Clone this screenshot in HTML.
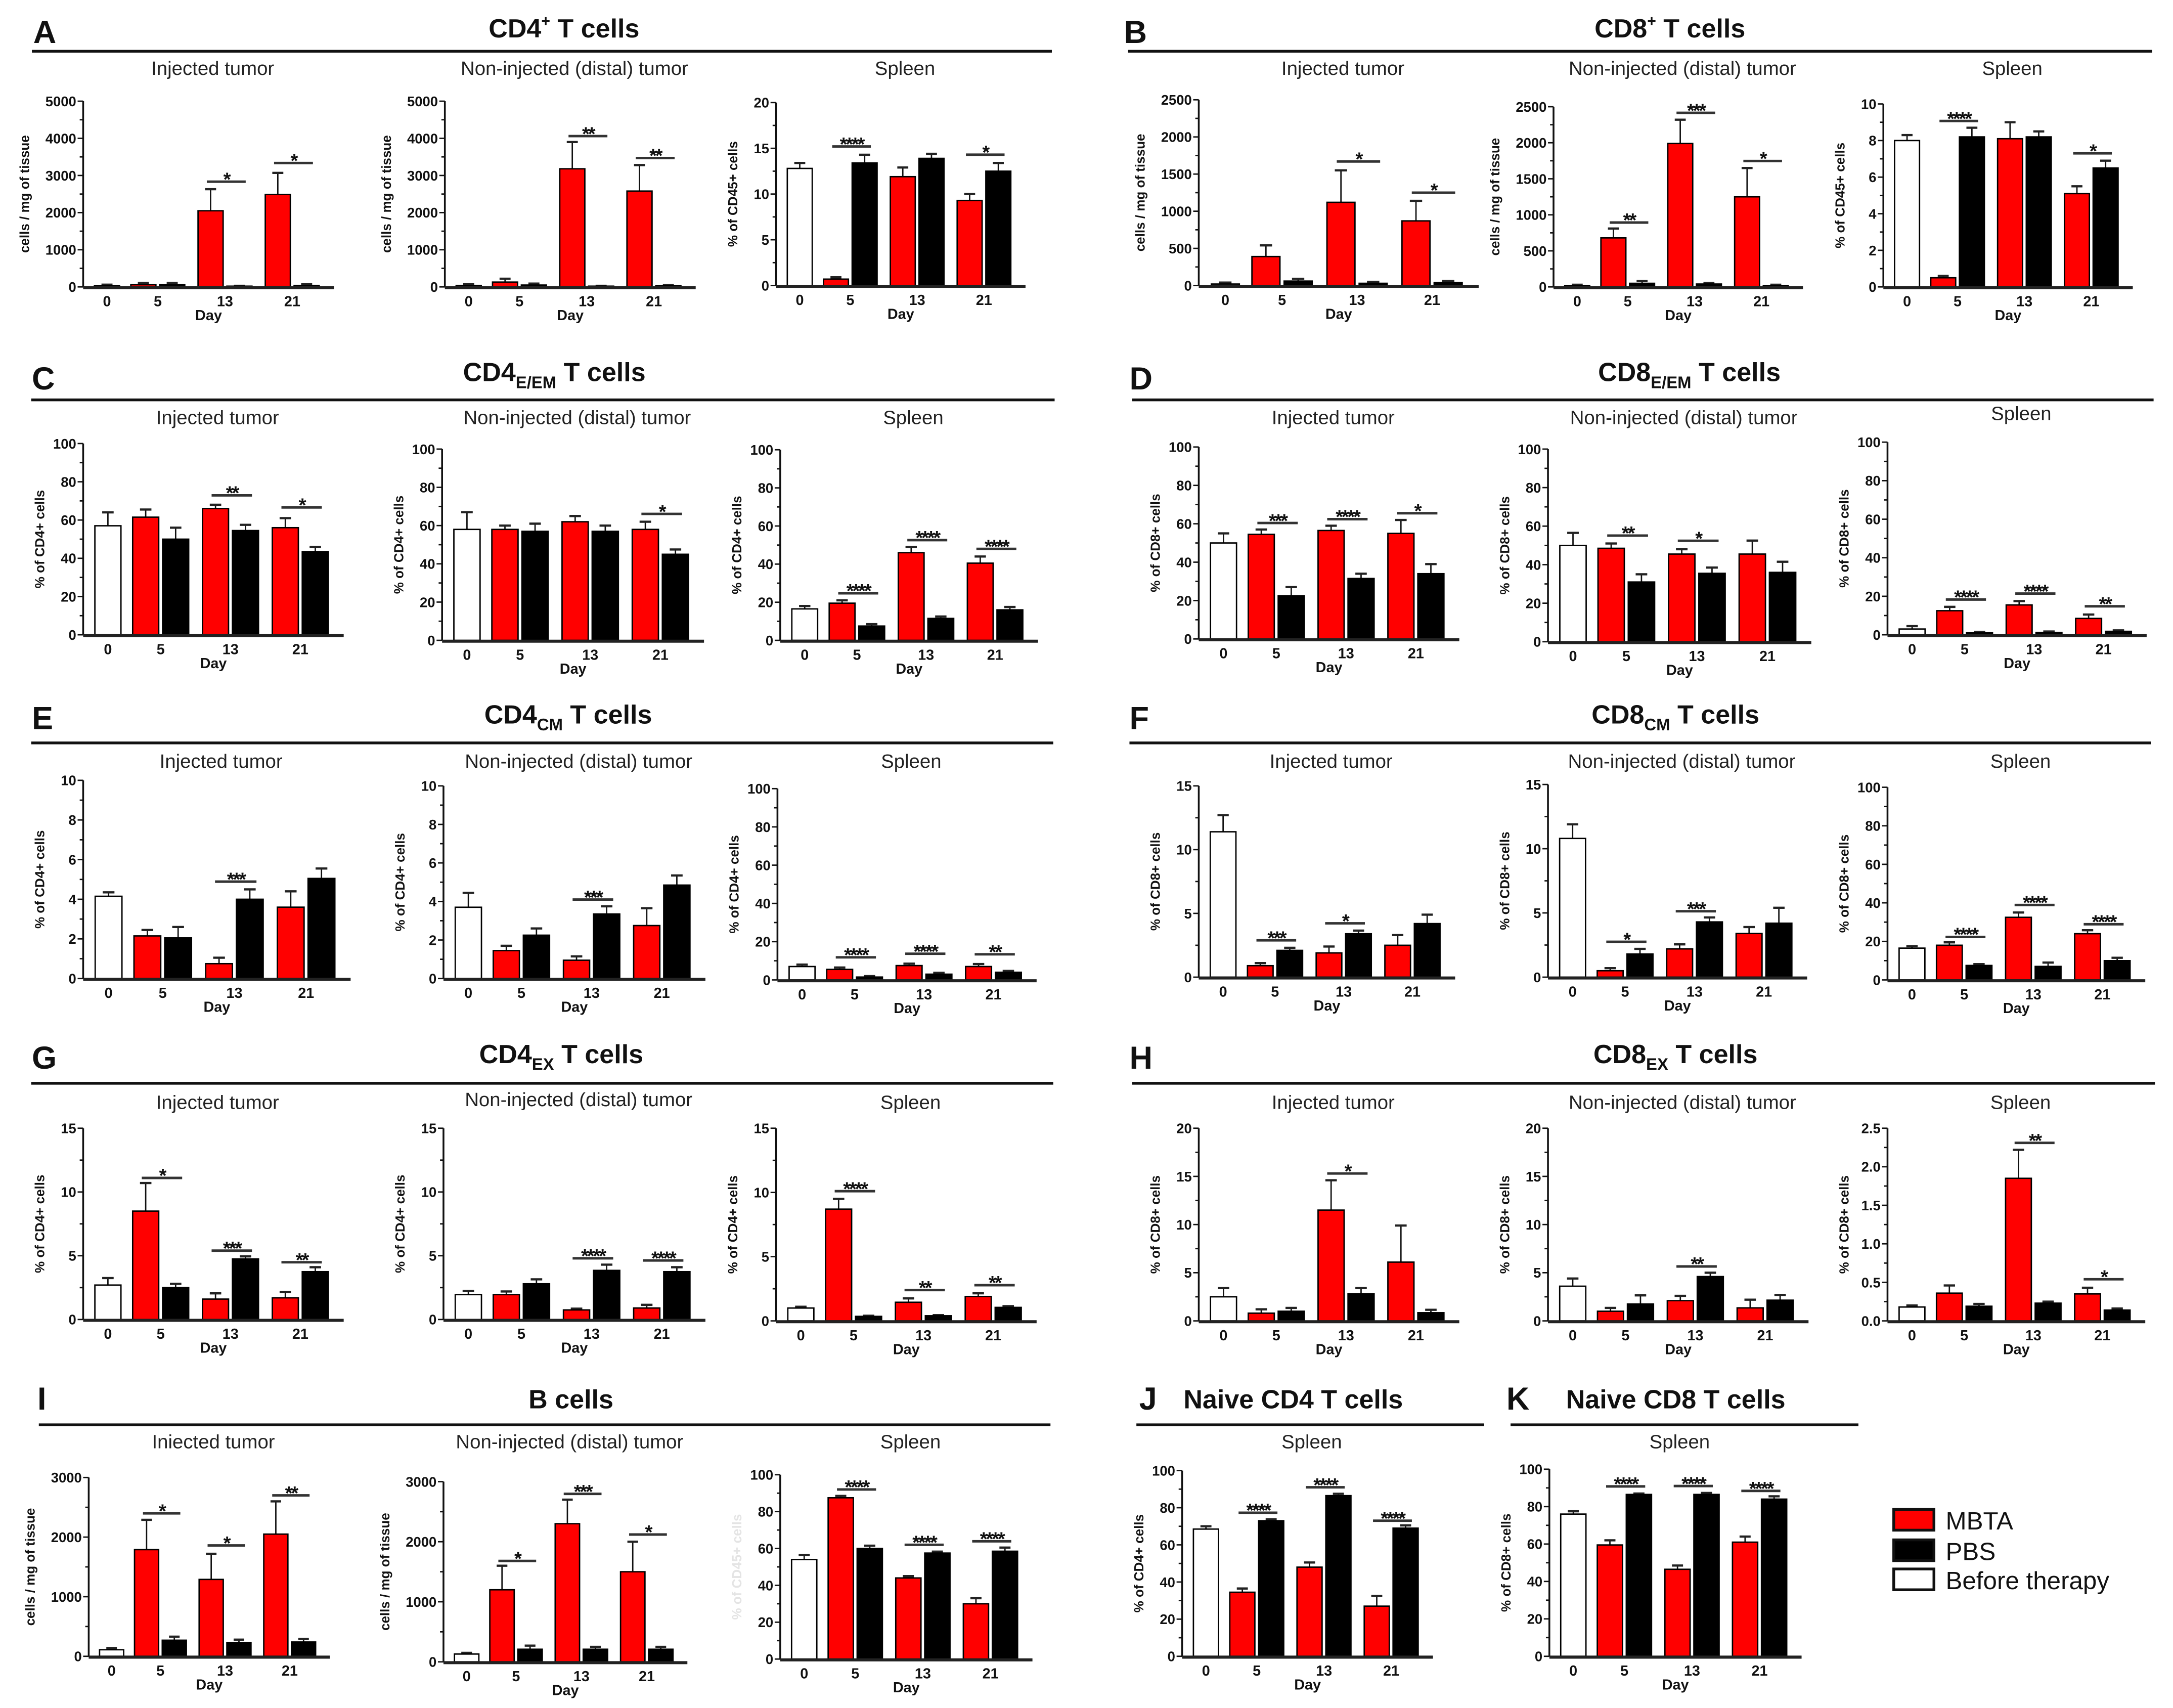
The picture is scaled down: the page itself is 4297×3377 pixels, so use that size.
<!DOCTYPE html>
<html><head><meta charset="utf-8"><title>T cell and B cell populations</title>
<style>
html,body{margin:0;padding:0;background:#fff;}
svg{display:block;}
text{font-family:"Liberation Sans",Arial,sans-serif;}
</style></head>
<body>
<svg id="fig" xmlns="http://www.w3.org/2000/svg" width="4297" height="3377" viewBox="0 0 1568 1232.3">
<rect x="0" y="0" width="1568" height="1232.3" fill="#fff"/>
</svg>
<script>
// ---- data ----
const days = ["0","5","13","21"];
// order: [before(0), MBTA5, PBS5, MBTA13, PBS13, MBTA21, PBS21]
const A1_mean=[30,60,60,2050,20,2490,40];   const A1_err=[30,50,50,580,10,580,30];   const A1_sig=[[2,"*",2833],[3,"*",3335]];
const A2_mean=[40,130,50,3180,20,2580,30];  const A2_err=[30,90,40,720,10,700,20];   const A2_sig=[[2,"**",4060],[3,"**",3470]];
const A3_mean=[12.8,0.7,13.4,11.9,13.9,9.3,12.5]; const A3_err=[0.6,0.2,0.9,1.0,0.5,0.7,0.9]; const A3_sig=[[1,"****",15.2],[3,"*",14.3]];
const B1_mean=[20,390,60,1120,30,870,40];   const B1_err=[20,150,30,430,20,270,20];  const B1_sig=[[2,"*",1670],[3,"*",1250]];
const B2_mean=[20,680,50,1990,40,1250,20];  const B2_err=[10,130,30,330,15,400,10];  const B2_sig=[[1,"**",893],[2,"***",2415],[3,"*",1747]];
const B3_mean=[8.0,0.5,8.2,8.1,8.2,5.1,6.5]; const B3_err=[0.3,0.1,0.5,0.9,0.3,0.4,0.4]; const B3_sig=[[1,"****",9.07],[3,"*",7.3]];
const C1_mean=[57,61.5,50,66,54.5,56,43.5]; const C1_err=[7,4,6,2,3,5,2.5];          const C1_sig=[[2,"**",72.9],[3,"*",66.6]];
const C2_mean=[58,58,57,62,57,58,45];       const C2_err=[9,2,4,3,3,4,2.5];          const C2_sig=[[3,"*",66.1]];
const C3_mean=[16.5,19.5,7.5,46,11.5,40.5,16]; const C3_err=[1.5,1.5,1,3,1,3.5,1.5]; const C3_sig=[[1,"****",24.7],[2,"****",52.6],[3,"****",48]];
const D1_mean=[50,54.5,22.5,56.5,31.5,55,34]; const D1_err=[5,2.5,4.5,2.5,2.5,7,5];  const D1_sig=[[1,"***",60.4],[2,"****",62.4],[3,"*",65.5]];
const D2_mean=[50,48.5,31,45.5,35.5,45.5,36]; const D2_err=[6.5,2.5,4,2.5,3,7,5.5]; const D2_sig=[[1,"**",55.1],[2,"*",52.4]];
const D3_mean=[3,12.5,1,15.5,1.2,8.5,1.8];  const D3_err=[1.5,2,0.5,2,0.5,2,0.5];    const D3_sig=[[1,"****",18.3],[2,"****",21.4],[3,"**",14.8]];
const E1_mean=[4.15,2.15,2.05,0.75,4.0,3.6,5.05]; const E1_err=[0.2,0.3,0.55,0.3,0.5,0.8,0.5]; const E1_sig=[[2,"***",4.89]];
const E2_mean=[3.7,1.45,2.25,0.95,3.35,2.75,4.85]; const E2_err=[0.75,0.25,0.35,0.2,0.4,0.9,0.5]; const E2_sig=[[2,"***",4.1]];
const E3_mean=[7,5.5,1.5,7.5,3,7,4];        const E3_err=[1,1,0.5,1,0.7,1.3,0.7];   const E3_sig=[[1,"****",11.8],[2,"****",13.7],[3,"**",13.4]];
const F1_mean=[11.4,0.9,2.1,1.9,3.4,2.5,4.2]; const F1_err=[1.3,0.2,0.2,0.5,0.25,0.8,0.7]; const F1_sig=[[1,"***",2.89],[2,"*",4.22]];
const F2_mean=[10.8,0.5,1.8,2.2,4.3,3.4,4.2]; const F2_err=[1.1,0.2,0.4,0.35,0.35,0.5,1.2]; const F2_sig=[[1,"*",2.75],[2,"***",5.13]];
const F3_mean=[16.5,18,7.5,32.5,7,24,10];   const F3_err=[1,1.5,0.7,2.5,2,1.8,1.5]; const F3_sig=[[1,"****",22.3],[2,"****",38.9],[3,"****",28.9]];
const G1_mean=[2.7,8.5,2.5,1.6,4.75,1.7,3.75]; const G1_err=[0.55,2.2,0.3,0.45,0.2,0.45,0.35]; const G1_sig=[[1,"*",11.1],[2,"***",5.4],[3,"**",4.49]];
const G2_mean=[1.95,1.95,2.8,0.75,3.85,0.9,3.75]; const G2_err=[0.3,0.25,0.35,0.1,0.45,0.25,0.35]; const G2_sig=[[2,"****",4.8],[3,"****",4.63]];
const G3_mean=[1.0,8.7,0.35,1.45,0.4,1.9,1.05]; const G3_err=[0.1,0.8,0.05,0.3,0.05,0.25,0.1]; const G3_sig=[[1,"****",10.1],[2,"**",2.4],[3,"**",2.78]];
const H1_mean=[2.5,0.8,1.0,11.5,2.8,6.1,0.85]; const H1_err=[0.9,0.4,0.35,3.1,0.6,3.8,0.3]; const H1_sig=[[2,"*",15.3]];
const H2_mean=[3.6,1.0,1.75,2.1,4.6,1.35,2.15]; const H2_err=[0.8,0.35,0.9,0.5,0.4,0.85,0.55]; const H2_sig=[[2,"**",5.65]];
const H3_mean=[0.18,0.36,0.19,1.85,0.23,0.35,0.14]; const H3_err=[0.02,0.1,0.03,0.37,0.02,0.08,0.02]; const H3_sig=[[2,"**",2.31],[3,"*",0.54]];
const I1_mean=[110,1790,270,1290,230,2050,240]; const I1_err=[30,500,60,430,50,550,50]; const I1_sig=[[1,"*",2398],[2,"*",1860],[3,"**",2700]];
const I2_mean=[130,1200,210,2300,210,1500,210]; const I2_err=[20,400,60,400,40,500,40]; const I2_sig=[[1,"*",1680],[2,"***",2797],[3,"*",2120]];
const I3_mean=[54,87.5,60,44,57.5,30,58.5]; const I3_err=[2.5,1,1.5,1,0.8,3,2];     const I3_sig=[[1,"****",92],[2,"****",62],[3,"****",63.9]];
const J_mean=[68.5,34.5,73,48,86.5,27,69];  const J_err=[1.5,2,0.8,2.5,1,5.5,1.5];  const J_sig=[[1,"****",77.3],[2,"****",91],[3,"****",73]];
const K_mean=[76,59.5,86.5,46.5,86.5,61,84]; const K_err=[1.5,2.5,0.5,2,0.8,3,1.5]; const K_sig=[[1,"****",90.8],[2,"****",91],[3,"****",88.4]];

const ticks_5000=[0,1000,2000,3000,4000,5000];
const ticks_2500=[0,500,1000,1500,2000,2500];
const ticks_3000=[0,1000,2000,3000];
const ticks_20by5=[0,5,10,15,20];
const ticks_15=[0,5,10,15];
const ticks_10=[0,2,4,6,8,10];
const ticks_100=[0,20,40,60,80,100];
const ticks_2p5=[0,0.5,1.0,1.5,2.0,2.5];

const SVGNS="http://www.w3.org/2000/svg";
const svg=document.getElementById('fig');
function mk(tag,attrs,parent,txt){
  const e=document.createElementNS(SVGNS,tag);
  for(const k in attrs) e.setAttribute(k,attrs[k]);
  if(txt!==undefined) e.textContent=txt;
  (parent||svg).appendChild(e);
  return e;
}

const CELLS="cells / mg of tissue";
const charts=[
 {id:"a-injected",x0:60,x1:241,yT:73,yB:207,ticks:ticks_5000,minor:500,yl:CELLS,m:A1_mean,e:A1_err,s:A1_sig,sub:"Injected tumor",sy:54},
 {id:"a-distal",x0:321,x1:502,yT:73,yB:207,ticks:ticks_5000,minor:500,yl:CELLS,m:A2_mean,e:A2_err,s:A2_sig,sub:"Non-injected (distal) tumor",sy:54},
 {id:"a-spleen",x0:560,x1:740,yT:74,yB:206,ticks:ticks_20by5,minor:2.5,yl:"% of CD45+ cells",m:A3_mean,e:A3_err,s:A3_sig,sub:"Spleen",sy:54},
 {id:"b-injected",x0:865,x1:1067,yT:72,yB:206,ticks:ticks_2500,minor:250,yl:CELLS,m:B1_mean,e:B1_err,s:B1_sig,sub:"Injected tumor",sy:54},
 {id:"b-distal",x0:1121,x1:1301,yT:77,yB:207,ticks:ticks_2500,minor:250,yl:CELLS,m:B2_mean,e:B2_err,s:B2_sig,sub:"Non-injected (distal) tumor",sy:54},
 {id:"b-spleen",x0:1359,x1:1539,yT:75,yB:207,ticks:ticks_10,minor:1,yl:"% of CD45+ cells",m:B3_mean,e:B3_err,s:B3_sig,sub:"Spleen",sy:54},
 {id:"c-injected",x0:60,x1:248,yT:320,yB:458,ticks:ticks_100,minor:10,yl:"% of CD4+ cells",m:C1_mean,e:C1_err,s:C1_sig,sub:"Injected tumor",sy:306},
 {id:"c-distal",x0:319,x1:508,yT:324,yB:462,ticks:ticks_100,minor:10,yl:"% of CD4+ cells",m:C2_mean,e:C2_err,s:C2_sig,sub:"Non-injected (distal) tumor",sy:306},
 {id:"c-spleen",x0:563,x1:749,yT:324.5,yB:462,ticks:ticks_100,minor:10,yl:"% of CD4+ cells",m:C3_mean,e:C3_err,s:C3_sig,sub:"Spleen",sy:306},
 {id:"d-injected",x0:865,x1:1053,yT:322.5,yB:461,ticks:ticks_100,minor:10,yl:"% of CD8+ cells",m:D1_mean,e:D1_err,s:D1_sig,sub:"Injected tumor",sy:306},
 {id:"d-distal",x0:1117,x1:1307,yT:324,yB:463,ticks:ticks_100,minor:10,yl:"% of CD8+ cells",m:D2_mean,e:D2_err,s:D2_sig,sub:"Non-injected (distal) tumor",sy:306},
 {id:"d-spleen",x0:1362,x1:1549,yT:319,yB:458,ticks:ticks_100,minor:10,yl:"% of CD8+ cells",m:D3_mean,e:D3_err,s:D3_sig,sub:"Spleen",sy:303},
 {id:"e-injected",x0:60,x1:253,yT:563,yB:706,ticks:ticks_10,minor:1,yl:"% of CD4+ cells",m:E1_mean,e:E1_err,s:E1_sig,sub:"Injected tumor",sy:554},
 {id:"e-distal",x0:320,x1:509,yT:567,yB:706,ticks:ticks_10,minor:1,yl:"% of CD4+ cells",m:E2_mean,e:E2_err,s:E2_sig,sub:"Non-injected (distal) tumor",sy:554},
 {id:"e-spleen",x0:561,x1:748,yT:569,yB:707,ticks:ticks_100,minor:10,yl:"% of CD4+ cells",m:E3_mean,e:E3_err,s:E3_sig,sub:"Spleen",sy:554},
 {id:"f-injected",x0:865,x1:1050,yT:567,yB:705,ticks:ticks_15,minor:2.5,yl:"% of CD8+ cells",m:F1_mean,e:F1_err,s:F1_sig,sub:"Injected tumor",sy:554},
 {id:"f-distal",x0:1117,x1:1304,yT:566,yB:705,ticks:ticks_15,minor:2.5,yl:"% of CD8+ cells",m:F2_mean,e:F2_err,s:F2_sig,sub:"Non-injected (distal) tumor",sy:554},
 {id:"f-spleen",x0:1362,x1:1548,yT:568,yB:707,ticks:ticks_100,minor:10,yl:"% of CD8+ cells",m:F3_mean,e:F3_err,s:F3_sig,sub:"Spleen",sy:554},
 {id:"g-injected",x0:60,x1:248,yT:814,yB:952,ticks:ticks_15,minor:2.5,yl:"% of CD4+ cells",m:G1_mean,e:G1_err,s:G1_sig,sub:"Injected tumor",sy:800},
 {id:"g-distal",x0:320,x1:509,yT:814,yB:952,ticks:ticks_15,minor:2.5,yl:"% of CD4+ cells",m:G2_mean,e:G2_err,s:G2_sig,sub:"Non-injected (distal) tumor",sy:798},
 {id:"g-spleen",x0:560,x1:748,yT:814,yB:953,ticks:ticks_15,minor:2.5,yl:"% of CD4+ cells",m:G3_mean,e:G3_err,s:G3_sig,sub:"Spleen",sy:800},
 {id:"h-injected",x0:865,x1:1053,yT:814,yB:953,ticks:ticks_20by5,minor:2.5,yl:"% of CD8+ cells",m:H1_mean,e:H1_err,s:H1_sig,sub:"Injected tumor",sy:800},
 {id:"h-distal",x0:1117,x1:1305,yT:814,yB:953,ticks:ticks_20by5,minor:2.5,yl:"% of CD8+ cells",m:H2_mean,e:H2_err,s:H2_sig,sub:"Non-injected (distal) tumor",sy:800},
 {id:"h-spleen",x0:1362,x1:1548,yT:814,yB:953,ticks:ticks_2p5,minor:0.25,fix:1,yl:"% of CD8+ cells",m:H3_mean,e:H3_err,s:H3_sig,sub:"Spleen",sy:800},
 {id:"i-injected",x0:64,x1:238,yT:1066,yB:1195,ticks:ticks_3000,minor:500,yl:CELLS,m:I1_mean,e:I1_err,s:I1_sig,sub:"Iniected tumor",sy:1045},
 {id:"i-distal",x0:320,x1:496,yT:1069,yB:1199,ticks:ticks_3000,minor:500,yl:CELLS,m:I2_mean,e:I2_err,s:I2_sig,sub:"Non-injected (distal) tumor",sy:1045},
 {id:"i-spleen",x0:563,x1:745,yT:1064,yB:1197,ticks:ticks_100,minor:10,yl:"% of CD45+ cells",ylc:"#e4e4e4",m:I3_mean,e:I3_err,s:I3_sig,sub:"Spleen",sy:1045},
 {id:"j-spleen",x0:853,x1:1034,yT:1061,yB:1195,ticks:ticks_100,minor:10,yl:"% of CD4+ cells",m:J_mean,e:J_err,s:J_sig,sub:"Spleen",sy:1045},
 {id:"k-spleen",x0:1118,x1:1300,yT:1060,yB:1195,ticks:ticks_100,minor:10,yl:"% of CD8+ cells",m:K_mean,e:K_err,s:K_sig,sub:"Spleen",sy:1045}
];

function drawChart(c){
  const g=mk('g',{});
  
  
  const W=c.x1-c.x0, max=c.ticks[c.ticks.length-1];
  const X=f=>c.x0+f*W;
  const Y=v=>c.yB-(v/max)*(c.yB-c.yT);
  const bw=0.1*W;
  const barStart=i=> i===0?0.045:(0.19+0.268*Math.floor((i-1)/2)+((i-1)%2)*0.115);
  const st=mk('text',{x:(c.x0+c.x1)/2+3,y:c.sy,'font-size':14,'text-anchor':'middle',fill:'#222'},g,c.sub);
  
  
  const off=c.yl===CELLS?-42:-31;
  const ymid=(c.yT+c.yB)/2;
  const yl=mk('text',{x:0,y:0,'font-size':9.5,'font-weight':'bold','text-anchor':'middle',fill:c.ylc||'#111',transform:`translate(${c.x0+off+3},${ymid}) rotate(-90)`},g,c.yl);
  
  
  for(let v=0; v<=max+1e-9; v+=c.minor){
    const isMajor=c.ticks.some(t=>Math.abs(t-v)<1e-9);
    mk('line',{x1:c.x0-(isMajor?4:2.5),x2:c.x0,y1:Y(v),y2:Y(v),stroke:'#111','stroke-width':1},g);
  }
  c.ticks.forEach(t=>{
    const tl=mk('text',{x:c.x0-5,y:Y(t)+3.6,'font-size':10,'font-weight':'bold','text-anchor':'end',fill:'#111'},g,c.fix?t.toFixed(c.fix):String(t));
    
    
  });
  c.m.forEach((v,i)=>{
    const x=X(barStart(i));
    const fill=i===0?'#fff':((i-1)%2===0?'#ff0000':'#000');
    const top=Y(v+c.e[i]);
    const cx=x+bw/2;
    mk('line',{x1:cx,x2:cx,y1:Y(v),y2:top,stroke:'#111','stroke-width':1},g);
    mk('line',{x1:cx-bw*0.22,x2:cx+bw*0.22,y1:top,y2:top,stroke:'#222','stroke-width':1.6},g);
    const r=mk('rect',{x:x,y:Y(v),width:bw,height:Math.max(0.6,c.yB-Y(v)),fill:fill,stroke:'#000','stroke-width':1},g);
    
    
  });
  mk('line',{x1:c.x0,x2:c.x0,y1:c.yT,y2:c.yB,stroke:'#111','stroke-width':1.3},g);
  mk('line',{x1:c.x0,x2:c.x1,y1:c.yB+0.6,y2:c.yB+0.6,stroke:'#222','stroke-width':2.2},g);
  days.forEach((d,k)=>{
    const cx = k===0 ? X(0.095) : X(0.19+0.268*(k-1)+0.1075);
    const xl=mk('text',{x:cx,y:c.yB+14,'font-size':10.5,'font-weight':'bold','text-anchor':'middle',fill:'#111'},g,d);
    
    
  });
  const dl=mk('text',{x:X(0.5),y:c.yB+24,'font-size':10.5,'font-weight':'bold','text-anchor':'middle',fill:'#111'},g,'Day');
  
  
  c.s.forEach(s=>{
    const gi=s[0]-1;
    const r0=0.19+0.268*gi;
    const xa=X(r0+0.035), xb=X(r0+0.19);
    const yy=Y(s[2]);
    mk('line',{x1:xa,x2:xb,y1:yy,y2:yy,stroke:'#333','stroke-width':1.8},g);
    const sg=mk('text',{x:(xa+xb)/2,y:yy+3,'font-size':14,'font-weight':'bold','text-anchor':'middle',fill:'#111','letter-spacing':-1.2},g,s[1]);
    
    
  });
}
charts.forEach(drawChart);

function header(letter,lx,ly,title,tx,ty,anchor,r0,r1,ry,sub,sup){
  const g=mk('g',{});
  
  
  const l=mk('text',{x:lx,y:ly,'font-size':23,'font-weight':'bold',fill:'#111'},g,letter);
  
  
  const t=mk('text',{x:tx,y:ty,'font-size':19,'font-weight':'bold','text-anchor':anchor,fill:'#111'},g);
  
  
  mk('tspan',{},t,title[0]);
  if(sup){ mk('tspan',{'font-size':11,dy:-8},t,sup); mk('tspan',{dy:8},t,title[1]); }
  else if(sub){ mk('tspan',{'font-size':12,dy:5},t,sub); mk('tspan',{dy:-5},t,title[1]); }
  else if(title[1]) mk('tspan',{},t,title[1]);
  mk('line',{x1:r0,x2:r1,y1:ry,y2:ry,stroke:'#111','stroke-width':2},g);
}
header('A',24,31,['CD4',' T cells'],407,27,'middle',23,759,37,null,'+');
header('B',811,31,['CD8',' T cells'],1205,27,'middle',814,1553,37,null,'+');
header('C',23,281,['CD4',' T cells'],400,275,'middle',22.5,761,288.5,'E/EM');
header('D',815,281,['CD8',' T cells'],1219,275,'middle',817,1554,288.5,'E/EM');
header('E',23,526,['CD4',' T cells'],410,522,'middle',22.5,760,536,'CM');
header('F',815,526,['CD8',' T cells'],1209,522,'middle',815,1552,536,'CM');
header('G',23,771,['CD4',' T cells'],405,767,'middle',22.5,760,781.6,'EX');
header('H',815,771,['CD8',' T cells'],1209,767,'middle',817,1555,781.6,'EX');
header('I',27,1017,['B cells',''],412,1016,'middle',28,758,1028,null,null);
header('J',822,1017,['Naive CD4 T cells',''],854,1016,'start',820,1071,1028,null,null);
header('K',1087,1017,['Naive CD8 T cells',''],1130,1016,'start',1090,1341,1028,null,null);

const lg=mk('g',{});


const legNames=['MBTA','PBS','Before therapy'];
const legFills=['#ff0000','#000','#fff'];
const legY=[1089,1111,1132];
legNames.forEach((n,i)=>{
  const b=mk('rect',{x:1366.5,y:legY[i],width:29,height:15,fill:legFills[i],stroke:'#111','stroke-width':2},lg);
  
  
  const t=mk('text',{x:1404,y:legY[i]+14.5,'font-size':18,fill:'#111'},lg,n);
  
  
});
</script>
</body></html>
